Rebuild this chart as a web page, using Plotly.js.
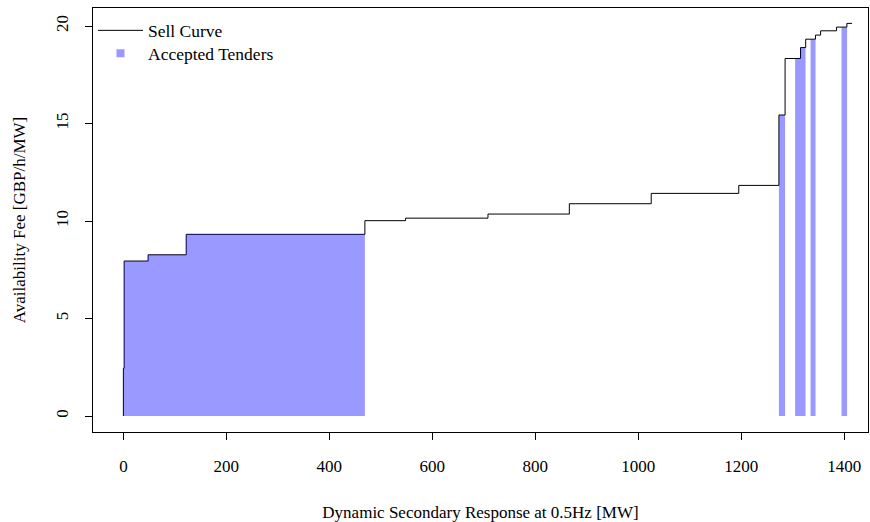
<!DOCTYPE html>
<html>
<head>
<meta charset="utf-8">
<script src="https://cdn.plot.ly/plotly-3.0.1.min.js"></script>
<style>html,body{margin:0;padding:0;background:#fff;}#chart{width:870px;height:522px;}</style>
</head>
<body>
<div id="chart"></div>
<script>
// Sell curve breakpoints (step function, value holds until next x)
const stepX = [0, 0, 1.5, 48, 122, 469, 548, 708, 866, 1025, 1195, 1273, 1285, 1315, 1325, 1344, 1354, 1385, 1405, 1415];
const stepY = [0, 2.45, 7.95, 8.27, 9.32, 10.02, 10.15, 10.36, 10.89, 11.42, 11.83, 15.44, 18.34, 18.9, 19.33, 19.54, 19.76, 19.95, 20.14, 20.14];
// Accepted tender ranges [start, end] in MW
const tenderStart = [0, 1273, 1304.5, 1334.4, 1394.6];
const tenderEnd = [469, 1285, 1324.7, 1344.1, 1405.4];
const xTicks = [0, 200, 400, 600, 800, 1000, 1200, 1400];
const yTicks = [0, 5, 10, 15, 20];

function valueAt(x) {
  let v = stepY[0];
  for (let i = 0; i < stepX.length; i++) {
    if (stepX[i] <= x) v = stepY[i]; else break;
  }
  return v;
}
function valueBefore(x) {
  let v = stepY[0];
  for (let i = 0; i < stepX.length; i++) {
    if (stepX[i] < x) v = stepY[i]; else break;
  }
  return v;
}

const fillColor = 'rgba(0,0,255,0.4)';
const traces = [];
traces.push({
  x: stepX, y: stepY, type: 'scatter', mode: 'lines',
  line: {shape: 'hv', color: '#000', width: 1},
  name: 'Sell Curve', showlegend: true, legend: 'legend', hoverinfo: 'skip'
});
for (let k = 0; k < tenderStart.length; k++) {
  const a = tenderStart[k], b = tenderEnd[k];
  const xs = [a], ys = [a === 0 ? 0 : valueAt(a)];
  for (let i = 0; i < stepX.length; i++) {
    if (stepX[i] >= a && stepX[i] < b && !(a === 0 && i === 0)) {
      if (stepX[i] === a && a !== 0) { ys[0] = stepY[i]; continue; }
      xs.push(stepX[i]); ys.push(stepY[i]);
    }
  }
  xs.push(b); ys.push(valueBefore(b));
  traces.push({
    x: xs, y: ys, type: 'scatter', mode: 'lines',
    line: {shape: 'hv', width: 0, color: fillColor},
    fill: 'tozeroy', fillcolor: fillColor,
    showlegend: false, hoverinfo: 'skip'
  });
}
traces.push({
  x: [null], y: [null], type: 'scatter', mode: 'markers',
  marker: {symbol: 'square', size: 8, color: '#9999FF'},
  name: 'Accepted Tenders', showlegend: true, legend: 'legend2'
});

const fam = '"Liberation Serif", "Times New Roman", serif';
const font = {family: fam, size: 17, color: '#000'};
const legFont = {family: fam, size: 17.5, color: '#000'};
const legBase = {x: 0.0, xanchor: 'left', yanchor: 'middle', bgcolor: 'rgba(0,0,0,0)', font: legFont, tracegroupgap: 0, itemwidth: 45};
const layout = {
  width: 870, height: 522,
  margin: {l: 93, r: 2, t: 8, b: 90},
  paper_bgcolor: '#fff', plot_bgcolor: '#fff',
  font: font,
  showlegend: true,
  legend: Object.assign({}, legBase, {y: 0.947}),
  legend2: Object.assign({}, legBase, {y: 0.893}),
  xaxis: {
    range: [-59, 1446], tickvals: xTicks, ticktext: xTicks.map(String),
    ticks: 'outside', ticklen: 7, tickcolor: '#000', tickwidth: 1,
    showline: true, mirror: true, linecolor: '#000', linewidth: 1,
    showgrid: false, zeroline: false, tickfont: font, ticklabelstandoff: 12,
    title: {text: 'Dynamic Secondary Response at 0.5Hz [MW]', font: font, standoff: 32}
  },
  yaxis: {
    range: [-0.82, 20.93], tickvals: yTicks, ticktext: yTicks.map(String),
    ticks: 'outside', ticklen: 7, tickcolor: '#000', tickwidth: 1, tickangle: -90,
    showline: true, mirror: true, linecolor: '#000', linewidth: 1,
    showgrid: false, zeroline: false, tickfont: font, ticklabelstandoff: 10,
    title: {text: 'Availability Fee [GBP/h/MW]', font: font, standoff: 23}
  }
};
Plotly.newPlot('chart', traces, layout, {staticPlot: true, displayModeBar: false});
</script>
</body>
</html>
